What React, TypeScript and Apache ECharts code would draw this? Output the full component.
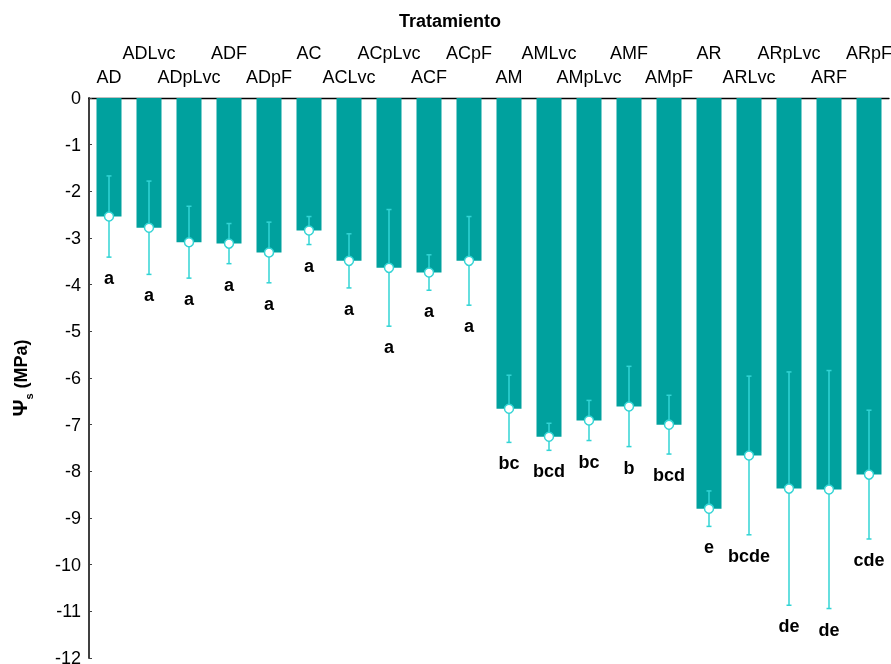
import React, { useEffect, useRef } from "react";
import * as echarts from "echarts";

// Treatment codes, in plotting order
const categories = [
  "AD", "ADLvc", "ADpLvc", "ADF", "ADpF",
  "AC", "ACLvc", "ACpLvc", "ACF", "ACpF",
  "AM", "AMLvc", "AMpLvc", "AMF", "AMpF",
  "AR", "ARLvc", "ARpLvc", "ARF", "ARpF",
];

// Mean osmotic potential (MPa)
const means = [
  -2.54, -2.78, -3.09, -3.12, -3.31,
  -2.84, -3.49, -3.64, -3.74, -3.49,
  -6.66, -7.26, -6.91, -6.61, -7.0,
  -8.8, -7.66, -8.37, -8.39, -8.07,
];

// Standard deviation of each mean (MPa)
const sds = [
  0.87, 1.0, 0.77, 0.43, 0.65,
  0.3, 0.58, 1.25, 0.38, 0.95,
  0.72, 0.29, 0.43, 0.86, 0.63,
  0.38, 1.7, 2.5, 2.55, 1.38,
];

// Significance groups (Tukey letters)
const letters = [
  "a", "a", "a", "a", "a",
  "a", "a", "a", "a", "a",
  "bc", "bcd", "bc", "b", "bcd",
  "e", "bcde", "de", "de", "cde",
];

const FONT = '"Liberation Sans", Arial, sans-serif';
const BAR = "#00a19e";
const ERR = "#33d4d4";

export default function App() {
  const ref = useRef<HTMLDivElement>(null);

  useEffect(() => {
    if (!ref.current) return;
    const chart = echarts.init(ref.current, undefined, { renderer: "svg" });

    const errData = means.map((m, i) => [i, m, sds[i]]);

    chart.setOption({
      animation: false,
      graphic: [
        {
          type: "text",
          x: 450,
          y: 21,
          style: {
            text: "Tratamiento",
            font: `bold 18px ${FONT}`,
            fill: "#000",
            align: "center",
            verticalAlign: "middle",
          },
        },
      ],
      grid: {
        left: 89,
        right: 2,
        top: 98,
        bottom: 6,
        containLabel: false,
        outerBoundsMode: "none",
      },
      xAxis: {
        type: "category",
        position: "top",
        data: categories,
        axisLine: { lineStyle: { color: "#000", width: 1.3 } },
        axisTick: {
          inside: true,
          length: 3,
          alignWithLabel: true,
          lineStyle: { color: "#000" },
        },
        axisLabel: {
          interval: 0,
          margin: 12,
          color: "#000",
          fontFamily: FONT,
          fontSize: 18,
          formatter: (v: string, i: number) =>
            i % 2 === 1 ? `{hi|${v}}` : `{lo|${v}}`,
          rich: {
            hi: { fontFamily: FONT, fontSize: 18, color: "#000", padding: [0, 0, 24, 0] },
            lo: { fontFamily: FONT, fontSize: 18, color: "#000" },
          },
        },
      },
      yAxis: {
        type: "value",
        min: -12,
        max: 0,
        interval: 1,
        splitLine: { show: false },
        axisLine: { show: true, lineStyle: { color: "#404040", width: 2 } },
        axisTick: { show: true, inside: true, length: 3, lineStyle: { color: "#404040" } },
        axisLabel: { margin: 8, color: "#000", fontFamily: FONT, fontSize: 18 },
        name: "{psi|Ψ}{sub|s}{t| (MPa)}",
        nameLocation: "middle",
        nameGap: 59,
        nameRotate: 90,
        nameTextStyle: {
          color: "#000",
          fontFamily: FONT,
          fontWeight: "bold",
          fontSize: 18,
          rich: {
            psi: { fontFamily: FONT, fontWeight: "bold", fontSize: 21, color: "#000", verticalAlign: "bottom", lineHeight: 24 },
            sub: { fontFamily: FONT, fontWeight: "bold", fontSize: 11, color: "#000", verticalAlign: "bottom", lineHeight: 24, padding: [0, 0, -4, 0] },
            t: { fontFamily: FONT, fontWeight: "bold", fontSize: 18, color: "#000", verticalAlign: "bottom", lineHeight: 24 },
          },
        },
      },
      series: [
        {
          type: "bar",
          data: means,
          barWidth: 25,
          itemStyle: { color: BAR },
        },
        {
          type: "custom",
          data: errData,
          z: 5,
          renderItem: (params: any, api: any) => {
            const i = api.value(0);
            const m = api.value(1);
            const s = api.value(2);
            const hi = api.coord([i, m + s]);
            const lo = api.coord([i, m - s]);
            const c = api.coord([i, m]);
            const cap = 2.5;
            const ls = { stroke: ERR, lineWidth: 1.5 };
            return {
              type: "group",
              children: [
                { type: "line", shape: { x1: hi[0], y1: hi[1], x2: lo[0], y2: lo[1] }, style: ls },
                { type: "line", shape: { x1: hi[0] - cap, y1: hi[1], x2: hi[0] + cap, y2: hi[1] }, style: ls },
                { type: "line", shape: { x1: lo[0] - cap, y1: lo[1], x2: lo[0] + cap, y2: lo[1] }, style: ls },
                {
                  type: "circle",
                  shape: { cx: c[0], cy: c[1], r: 4.5 },
                  style: { fill: "#fff", stroke: ERR, lineWidth: 1.5 },
                },
                {
                  type: "text",
                  x: lo[0],
                  y: lo[1] + 21,
                  style: {
                    text: letters[params.dataIndex],
                    font: `bold 18px ${FONT}`,
                    fill: "#000",
                    align: "center",
                    verticalAlign: "middle",
                  },
                },
              ],
            };
          },
        },
      ],
    });

    return () => chart.dispose();
  }, []);

  return (
    <div
      ref={ref}
      style={{ position: "fixed", left: 0, top: 0, width: 891, height: 664 }}
    />
  );
}
